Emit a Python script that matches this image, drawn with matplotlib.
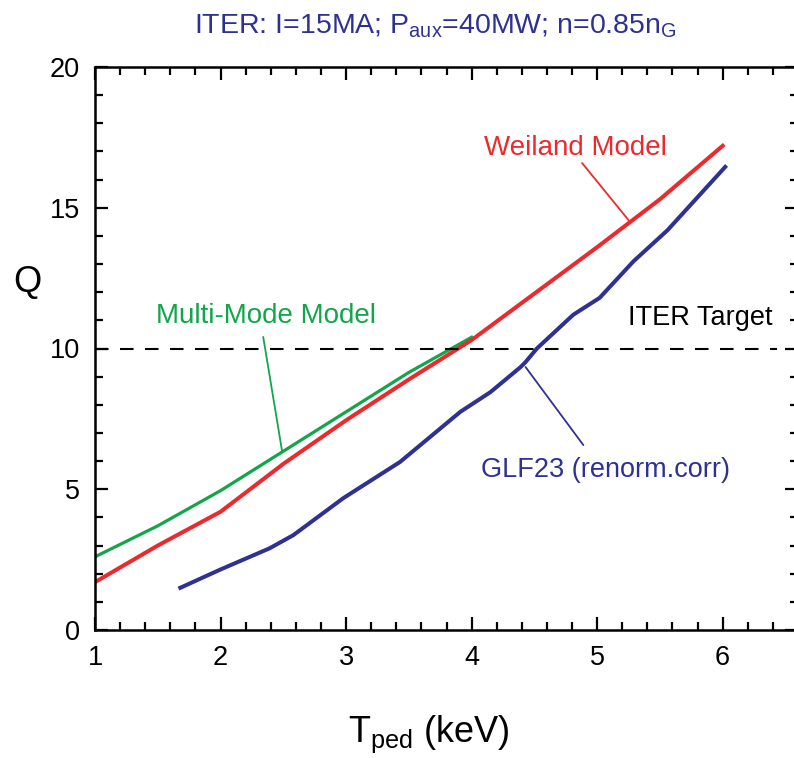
import numpy as np
import matplotlib
matplotlib.use("Agg")
import matplotlib.pyplot as plt
from matplotlib.ticker import MultipleLocator

plt.rcParams['font.family'] = ['Liberation Sans', 'DejaVu Sans']
plt.rcParams['mathtext.fontset'] = 'custom'
plt.rcParams['mathtext.rm'] = 'Liberation Sans'
plt.rcParams['mathtext.it'] = 'Liberation Sans'

# Pedestal temperature (keV) vs fusion gain Q
mm_t = [1.0, 1.5, 2.0, 2.5, 3.0, 3.5, 4.0]
mm_q = [2.6, 3.7, 4.95, 6.35, 7.75, 9.15, 10.4]

weiland_t = [1.0, 1.5, 2.0, 2.5, 3.0, 3.5, 4.0, 4.5, 5.0, 5.5, 6.0]
weiland_q = [1.7, 3.0, 4.2, 5.9, 7.45, 8.9, 10.3, 11.95, 13.6, 15.3, 17.2]

glf_t = [1.68, 2.0, 2.39, 2.58, 2.98, 3.43, 3.91, 4.15, 4.39, 4.43, 4.52,
         4.81, 5.02, 5.29, 5.56, 6.02]
glf_q = [1.5, 2.15, 2.9, 3.37, 4.69, 5.97, 7.75, 8.45, 9.34, 9.52, 10.0,
         11.2, 11.8, 13.1, 14.2, 16.45]

iter_target = 10
x_ticks = [1, 2, 3, 4, 5, 6]
y_ticks = [0, 5, 10, 15, 20]

RED = '#ec2a2e'
GREEN = '#13a54b'
BLUE = '#2e3192'

fig = plt.figure(figsize=(7.94, 7.58), dpi=100)
ax = fig.add_axes([95 / 794, 1 - 630 / 758, 703 / 794, 563 / 758])

ax.plot(mm_t, mm_q, color=GREEN, lw=2.3)
ax.plot(weiland_t, weiland_q, color=RED, lw=2.9)
ax.plot(glf_t, glf_q, color=BLUE, lw=2.9)

ax.axhline(iter_target, xmin=0, xmax=0.97, color='black', lw=1.5,
           linestyle=(0, (6.5, 5.5)))

# labels with leader lines
ax.text(4.83, 16.87, 'Weiland Model', color=RED, fontsize=20,
        ha='center', va='baseline')
ax.annotate('', xy=(5.25, 14.56), xytext=(4.88, 16.59),
            arrowprops=dict(arrowstyle='-', color=RED, lw=1.3,
                            shrinkA=0, shrinkB=0))

ax.text(2.36, 10.91, 'Multi-Mode Model', color=GREEN, fontsize=20,
        ha='center', va='baseline')
ax.annotate('', xy=(2.49, 6.36), xytext=(2.34, 10.41),
            arrowprops=dict(arrowstyle='-', color=GREEN, lw=1.3,
                            shrinkA=0, shrinkB=0))

ax.text(5.07, 5.43, 'GLF23 (renorm.corr)', color=BLUE, fontsize=19.5,
        ha='center', va='baseline')
ax.annotate('', xy=(4.89, 6.57), xytext=(4.43, 9.34),
            arrowprops=dict(arrowstyle='-', color=BLUE, lw=1.3,
                            shrinkA=0, shrinkB=0))

ax.text(5.82, 10.83, 'ITER Target', color='black', fontsize=19.5,
        ha='center', va='baseline')

ax.text(0.4836, 1.060,
        r'ITER: I=15MA; P$_{\mathrm{aux}}$=40MW; n=0.85n$_{\mathrm{G}}$',
        transform=ax.transAxes, color=BLUE, fontsize=20.5,
        ha='center', va='baseline')

ax.set_xlim(1, 6.6)
ax.set_ylim(0, 20)
ax.set_xticks(x_ticks)
ax.set_yticks(y_ticks)
ax.xaxis.set_minor_locator(MultipleLocator(0.2))
ax.yaxis.set_minor_locator(MultipleLocator(1))
ax.tick_params(which='both', direction='in', top=True, right=True,
               width=1.6, labelsize=19.5, pad=11)
ax.tick_params(which='major', length=9.5)
ax.tick_params(which='minor', length=5.5)
for s in ax.spines.values():
    s.set_linewidth(1.8)

ax.set_xlabel(r'T$_{\mathrm{ped}}$ (keV)', fontsize=26, va='baseline')
ax.xaxis.set_label_coords(0.475, -0.199)
ax.set_ylabel('Q', fontsize=26, rotation=0, ha='center', va='baseline')
ax.yaxis.set_label_coords(-0.0967, 0.600)

fig.savefig('out.png', dpi=100)
